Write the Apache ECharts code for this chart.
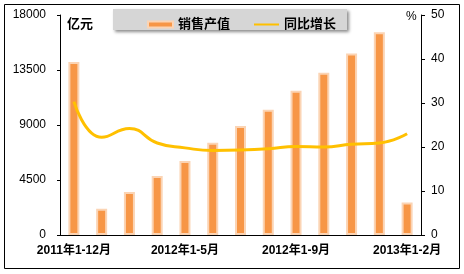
<!DOCTYPE html>
<html><head><meta charset="utf-8">
<script src="https://cdn.jsdelivr.net/npm/echarts@6/dist/echarts.min.js"></script>
<style>html,body{margin:0;padding:0;background:#fff}#c{width:464px;height:274px}</style>
</head><body><div id="c"></div>
<script>
const categories = ['2011年1-12月','2012年1-2月','2012年1-3月','2012年1-4月','2012年1-5月','2012年1-6月','2012年1-7月','2012年1-8月','2012年1-9月','2012年1-10月','2012年1-11月','2012年1-12月','2013年1-2月'];
const salesValue = [14150, 2150, 3520, 4830, 6060, 7550, 8920, 10250, 11800, 13280, 14860, 16580, 2650];
const growthRate = [30.3, 22.2, 24.2, 20.9, 19.8, 19.2, 19.3, 19.6, 20.1, 20.0, 20.6, 20.9, 23.0];
const leftTicks = [0, 4500, 9000, 13500, 18000];
const rightTicks = [0, 10, 20, 30, 40, 50];

const FF = '"Liberation Sans", "Noto Sans CJK SC", sans-serif';
const chart = echarts.init(document.getElementById('c'));
chart.setOption({
  animation: false,
  textStyle: {fontFamily: FF},
  grid: {left: 60, right: 43, top: 15, bottom: 39},
  graphic: [
    {type: 'rect', shape: {x: 4.5, y: 4.5, width: 455, height: 264}, style: {fill: 'none', stroke: '#000', lineWidth: 1}, z: -10},
    {type: 'rect', shape: {x: 113, y: 9, width: 234, height: 21}, style: {fill: '#D6D6D6', shadowBlur: 3, shadowOffsetX: 2, shadowOffsetY: 2, shadowColor: 'rgba(0,0,0,0.45)'}, z: -5},
    {type: 'text', left: 67, top: 18, style: {text: '亿元', font: 'bold 13px ' + FF, fill: '#000'}},
    {type: 'text', left: 406, top: 11, style: {text: '%', font: '12px ' + FF, fill: '#000'}}
  ],
  legend: {
    left: 142, top: 13, itemWidth: 25, itemHeight: 6, itemGap: 23,
    textStyle: {fontSize: 13, fontWeight: 'bold', color: '#000', fontFamily: FF},
    data: [{name: '销售产值', icon: 'rect'}, {name: '同比增长', lineStyle: {width: 2}, itemStyle: {opacity: 0}}]
  },
  xAxis: {
    type: 'category', data: categories, boundaryGap: true,
    axisLine: {lineStyle: {color: '#000', width: 1}},
    axisTick: {inside: true, length: 4, interval: 2, lineStyle: {color: '#000'}},
    axisLabel: {interval: 3, color: '#000', fontSize: 12, fontWeight: 'bold', margin: 10}
  },
  yAxis: [
    {type: 'value', min: leftTicks[0], max: leftTicks[leftTicks.length-1], interval: 4500,
     axisLine: {show: true, lineStyle: {color: '#000'}},
     axisTick: {show: true, length: 3, lineStyle: {color: '#000'}},
     splitLine: {show: false},
     axisLabel: {color: '#000', fontSize: 12, margin: 14, formatter: v => String(v)}},
    {type: 'value', min: rightTicks[0], max: rightTicks[rightTicks.length-1], interval: 10,
     axisLine: {show: true, lineStyle: {color: '#000'}},
     axisTick: {show: true, length: 4, lineStyle: {color: '#000'}},
     splitLine: {show: false},
     axisLabel: {color: '#000', fontSize: 12, margin: 10}}
  ],
  series: [
    {name: '销售产值', type: 'bar', data: salesValue, barWidth: 11,
     itemStyle: {color: '#F79646', borderColor: '#FBD4B4', borderWidth: 2}},
    {name: '同比增长', type: 'line', yAxisIndex: 1, data: growthRate, smooth: 0.5,
     symbol: 'none', lineStyle: {color: '#FFC000', width: 3}, itemStyle: {color: '#FFC000'}, z: 5}
  ]
});
</script></body></html>
